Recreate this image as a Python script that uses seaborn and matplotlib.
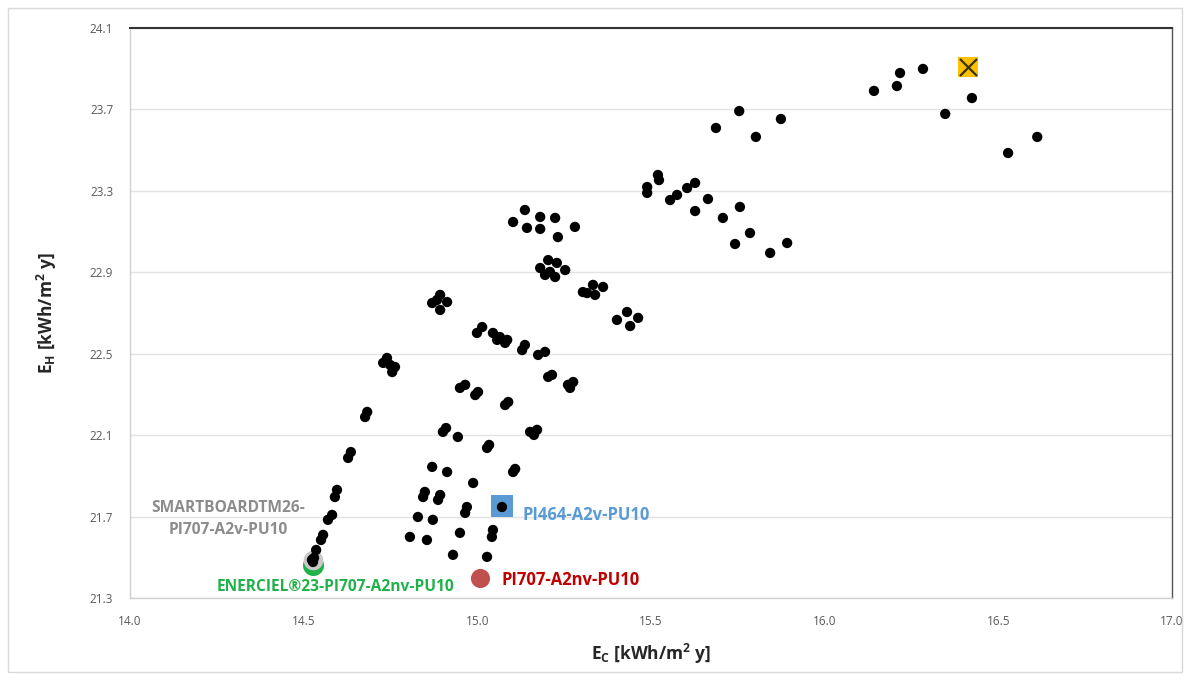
import matplotlib
matplotlib.use("Agg")
import matplotlib.pyplot as plt
import seaborn as sns
import pandas as pd
from matplotlib.patches import Rectangle

# ---- data ----
ec = [14.527, 14.524, 14.530, 14.536, 14.550, 14.556, 14.570, 14.582, 14.590, 14.596,
      14.628, 14.636, 14.677, 14.683, 14.729, 14.740, 14.763, 14.755, 14.749,
      14.870, 14.893, 14.913, 14.893, 14.884,
      14.999, 15.014, 15.045, 15.065, 15.086, 15.057, 15.080, 15.129, 15.137, 15.175,
      15.195, 15.204, 15.215, 15.261, 15.276, 15.267,
      14.950, 14.965, 14.994, 15.002, 15.080, 15.089, 15.152, 15.172, 15.163,
      14.901, 14.910, 14.944, 15.028, 15.034, 15.103, 15.109, 14.870, 14.913, 14.988,
      14.849, 14.844, 14.893, 14.887, 14.970, 14.965, 15.071, 14.829, 14.872, 15.045,
      15.042, 14.806, 14.855, 14.950, 14.930, 15.028,
      15.137, 15.103, 15.143, 15.181, 15.181, 15.224, 15.232, 15.281,
      15.204, 15.229, 15.181, 15.195, 15.224, 15.253, 15.209,
      15.304, 15.333, 15.362, 15.339, 15.316,
      15.402, 15.431, 15.463, 15.440,
      15.489, 15.489, 15.520, 15.523, 15.555, 15.575, 15.604, 15.627, 15.664, 15.627,
      15.707, 15.756, 15.785, 15.742, 15.843, 15.892,
      15.687, 15.754, 15.802, 15.874,
      16.142, 16.208, 16.217, 16.283, 16.347, 16.424, 16.528, 16.612, 16.413]
eh = [21.477, 21.487, 21.497, 21.536, 21.585, 21.610, 21.684, 21.708, 21.796, 21.831,
      21.988, 22.017, 22.189, 22.214, 22.455, 22.479, 22.435, 22.410, 22.445,
      22.749, 22.789, 22.754, 22.715, 22.764,
      22.602, 22.631, 22.602, 22.582, 22.568, 22.568, 22.553, 22.518, 22.543, 22.494,
      22.509, 22.386, 22.396, 22.347, 22.361, 22.332,
      22.332, 22.347, 22.297, 22.312, 22.248, 22.263, 22.116, 22.126, 22.101,
      22.116, 22.135, 22.091, 22.037, 22.052, 21.919, 21.934, 21.944, 21.919, 21.865,
      21.821, 21.796, 21.806, 21.782, 21.747, 21.718, 21.747, 21.698, 21.684, 21.634,
      21.600, 21.600, 21.585, 21.620, 21.512, 21.502,
      23.206, 23.147, 23.118, 23.172, 23.113, 23.167, 23.073, 23.123,
      22.960, 22.946, 22.921, 22.887, 22.877, 22.911, 22.902,
      22.803, 22.838, 22.828, 22.789, 22.798,
      22.666, 22.705, 22.676, 22.636,
      23.319, 23.290, 23.378, 23.353, 23.255, 23.280, 23.314, 23.339, 23.260, 23.201,
      23.167, 23.221, 23.093, 23.039, 22.995, 23.044,
      23.609, 23.692, 23.565, 23.653,
      23.791, 23.815, 23.879, 23.899, 23.678, 23.756, 23.486, 23.565, 23.908]

hl_names = ["SMARTBOARDTM26-\nPI707-A2v-PU10", "ENERCIEL®23-PI707-A2nv-PU10",
            "PI464-A2v-PU10", "PI707-A2nv-PU10", "optimum"]
hl_ec = [14.527, 14.527, 15.071, 15.008, 16.413]
hl_eh = [21.487, 21.462, 21.752, 21.399, 23.908]

x_ticks = [14.0, 14.5, 15.0, 15.5, 16.0, 16.5, 17.0]
y_ticks = [21.3, 21.7, 22.1, 22.5, 22.9, 23.3, 23.7, 24.1]

# ---- figure ----
sns.set_theme(style="white")
plt.rcParams["font.family"] = ["Open Sans", "DejaVu Sans"]
plt.rcParams["mathtext.fontset"] = "custom"
plt.rcParams["mathtext.rm"] = "Open Sans:bold"
plt.rcParams["mathtext.bf"] = "Open Sans:bold"

fig = plt.figure(figsize=(11.9, 6.8), dpi=100)
fig.patches.append(Rectangle((0.007, 0.012), 0.986, 0.976, transform=fig.transFigure,
                             fill=False, edgecolor="#d9d9d9", linewidth=1.0))
ax = fig.add_axes([0.1092, 0.1206, 0.8757, 0.8382])

# highlight markers behind black points
ax.scatter([hl_ec[1]], [hl_eh[1]], s=230, color="#1fb24a", zorder=2, linewidths=0)
ax.scatter([hl_ec[0]], [hl_eh[0]], s=200, color="#c8c8c8", zorder=2.1, linewidths=0)
ax.scatter([hl_ec[2]], [hl_eh[2]], s=230, marker="s", color="#5b9bd5", zorder=2, linewidths=0)

df = pd.DataFrame({"EC": ec, "EH": eh})
sns.scatterplot(data=df, x="EC", y="EH", ax=ax, color="black", s=55,
                edgecolor="none", zorder=3, legend=False)

ax.scatter([hl_ec[3]], [hl_eh[3]], s=190, color="#c0504d", zorder=3, linewidths=0)
ax.scatter([hl_ec[4]], [hl_eh[4]], s=200, marker="s", color="#ffc000", zorder=3, linewidths=0)
ax.scatter([hl_ec[4]], [hl_eh[4]], s=150, marker="x", color="#3a3000", zorder=4, linewidths=1.6)

# labels
ax.text(14.282, 21.688, hl_names[0], color="#8c8c8c", fontsize=11.2, fontweight="bold",
        ha="center", va="center", linespacing=1.45)
ax.text(14.592, 21.354, hl_names[1], color="#1fb24a", fontsize=11.2, fontweight="bold",
        ha="center", va="center")
ax.text(15.13, 21.71, hl_names[2], color="#5b9bd5", fontsize=12, fontweight="bold",
        ha="left", va="center")
ax.text(15.07, 21.39, hl_names[3], color="#c00000", fontsize=12, fontweight="bold",
        ha="left", va="center")

ax.set_xlim(14.0, 17.0)
ax.set_ylim(21.3, 24.1)
ax.set_xticks(x_ticks)
ax.set_yticks(y_ticks)
ax.set_xticklabels([f"{v:.1f}" for v in x_ticks])
ax.set_yticklabels([f"{v:.1f}" for v in y_ticks])
ax.tick_params(axis="both", labelsize=8.5, colors="#595959", length=0, pad=12)
ax.tick_params(axis="x", pad=12)
ax.yaxis.grid(True, color="#e3e3e3", linewidth=1.0)
ax.xaxis.grid(False)
ax.set_axisbelow(True)

for side in ["left", "bottom"]:
    ax.spines[side].set_color("#d0d0d0")
    ax.spines[side].set_linewidth(1.0)
ax.spines["top"].set_color("#333333")
ax.spines["top"].set_linewidth(1.5)
ax.spines["right"].set_color("#555555")
ax.spines["right"].set_linewidth(1.0)

ax.set_xlabel(r"E$_\mathrm{C}$ [kWh/m$^\mathrm{2}$ y]", fontsize=12.5, fontweight="bold",
              color="#262626", labelpad=10)
ax.set_ylabel(r"E$_\mathrm{H}$ [kWh/m$^\mathrm{2}$ y]", fontsize=12.5, fontweight="bold",
              color="#262626", labelpad=22)

fig.savefig("out.png", dpi=100)
